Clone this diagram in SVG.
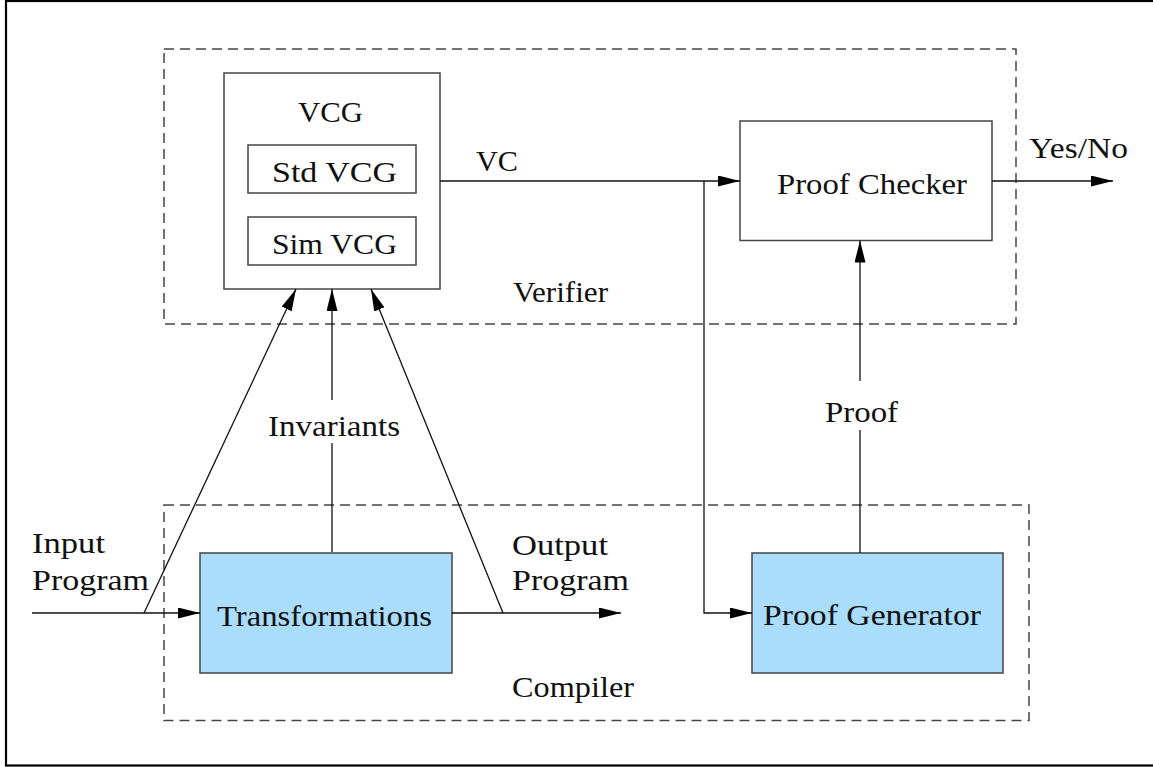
<svg xmlns="http://www.w3.org/2000/svg" width="1153" height="767" viewBox="0 0 1153 767" font-family="'Liberation Serif', 'Times New Roman', serif">
  <style>
    text { font-family: 'Liberation Serif', 'Times New Roman', serif; font-size: 30px; fill: #111; }
    .box { fill: #fff; stroke: #444; stroke-width: 1.5; }
    .blue { fill: #aadcfc; stroke: #444; stroke-width: 1.5; }
    .region { fill: none; stroke: #444; stroke-width: 1.5; stroke-dasharray: 10 6; }
    .edge { fill: none; stroke: #111; stroke-width: 1.3; }
  </style>
  <defs>
    <marker id="arrow" markerUnits="userSpaceOnUse" markerWidth="22" markerHeight="11" refX="22" refY="5.5" orient="auto">
      <path d="M0,0 L22,5.5 L0,11 z" fill="#000"/>
    </marker>
  </defs>

  <!-- outer frame -->
  <rect x="6" y="1" width="1160" height="764.5" fill="#fff" stroke="#000" stroke-width="2.2"/>

  <!-- dashed regions -->
  <g id="verifier">
    <rect class="region" x="164" y="49" width="852" height="275"/>
    <text x="513" y="302" textLength="95" lengthAdjust="spacingAndGlyphs">Verifier</text>
  </g>
  <g id="compiler">
    <rect class="region" x="164" y="505" width="865" height="215.5"/>
    <text x="512" y="697" textLength="122" lengthAdjust="spacingAndGlyphs">Compiler</text>
  </g>

  <!-- VCG with its two sub-generators -->
  <g id="vcg">
    <rect class="box" x="224" y="73" width="216" height="216"/>
    <text x="298" y="122" textLength="65" lengthAdjust="spacingAndGlyphs">VCG</text>
  </g>
  <g id="std-vcg">
    <rect class="box" x="248" y="145" width="168" height="48"/>
    <text x="272" y="182" textLength="125" lengthAdjust="spacingAndGlyphs">Std VCG</text>
  </g>
  <g id="sim-vcg">
    <rect class="box" x="248" y="217" width="168" height="48"/>
    <text x="272" y="254" textLength="125" lengthAdjust="spacingAndGlyphs">Sim VCG</text>
  </g>

  <g id="proof-checker">
    <rect class="box" x="740" y="121" width="252" height="119.5"/>
    <text x="777" y="194" textLength="190" lengthAdjust="spacingAndGlyphs">Proof Checker</text>
  </g>

  <g id="transformations">
    <rect class="blue" x="200" y="553" width="252" height="120"/>
    <text x="217" y="626" textLength="215" lengthAdjust="spacingAndGlyphs">Transformations</text>
  </g>

  <g id="proof-generator">
    <rect class="blue" x="752" y="553" width="251" height="120"/>
    <text x="763" y="625" textLength="218" lengthAdjust="spacingAndGlyphs">Proof Generator</text>
  </g>

  <!-- connectors -->
  <g id="connectors">
    <!-- input program -->
    <line class="edge" x1="32" y1="613" x2="200" y2="613" marker-end="url(#arrow)"/>
    <line class="edge" x1="144" y1="613" x2="296" y2="289" marker-end="url(#arrow)"/>
    <!-- invariants -->
    <line class="edge" x1="332" y1="552" x2="332" y2="443"/>
    <line class="edge" x1="332" y1="400" x2="332" y2="289" marker-end="url(#arrow)"/>
    <!-- output program -->
    <line class="edge" x1="452" y1="613" x2="621" y2="613" marker-end="url(#arrow)"/>
    <line class="edge" x1="503" y1="613" x2="371" y2="289" marker-end="url(#arrow)"/>
    <!-- VC -->
    <line class="edge" x1="440" y1="181" x2="740" y2="181" marker-end="url(#arrow)"/>
    <polyline class="edge" points="704,181 704,613 752,613" marker-end="url(#arrow)"/>
    <!-- proof -->
    <line class="edge" x1="860" y1="553" x2="860" y2="430"/>
    <line class="edge" x1="860" y1="381" x2="860" y2="240.5" marker-end="url(#arrow)"/>
    <!-- verdict -->
    <line class="edge" x1="992" y1="181" x2="1113" y2="181" marker-end="url(#arrow)"/>
  </g>

  <!-- edge labels -->
  <g id="labels">
    <text x="476" y="171" textLength="42" lengthAdjust="spacingAndGlyphs">VC</text>
    <text x="1029" y="158" textLength="99" lengthAdjust="spacingAndGlyphs">Yes/No</text>
    <text x="268" y="436" textLength="132" lengthAdjust="spacingAndGlyphs">Invariants</text>
    <text x="825" y="422" textLength="73" lengthAdjust="spacingAndGlyphs">Proof</text>
    <text x="32" y="553" textLength="73" lengthAdjust="spacingAndGlyphs">Input</text>
    <text x="32" y="590" textLength="117" lengthAdjust="spacingAndGlyphs">Program</text>
    <text x="512" y="555" textLength="96" lengthAdjust="spacingAndGlyphs">Output</text>
    <text x="512" y="590" textLength="117" lengthAdjust="spacingAndGlyphs">Program</text>
  </g>
</svg>
